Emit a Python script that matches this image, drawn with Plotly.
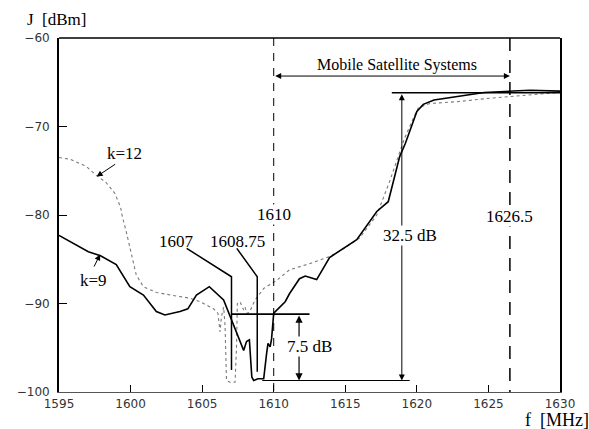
import plotly.graph_objects as go

# ---- data ----
f_k9 = [1595, 1597.05, 1597.9, 1599.0, 1599.95, 1600.9, 1601.8, 1602.4, 1603.45, 1604.0,
        1604.6, 1605.5, 1606.5, 1606.95, 1607.4, 1607.9, 1608.1, 1608.3, 1608.47, 1608.6,
        1608.9, 1609.3, 1609.5, 1609.6, 1609.75, 1609.85, 1610.0, 1610.3, 1610.8, 1611.1,
        1611.8, 1612.2, 1613.0, 1613.9, 1615.8, 1617.2, 1618.0, 1618.8, 1619.2, 1620.0,
        1620.45, 1621.2, 1624.7, 1627.9, 1630]
J_k9 = [-82.3, -84.15, -84.6, -85.6, -88.1, -89.05, -90.9, -91.3, -90.9, -90.6,
        -89.05, -88.1, -89.6, -91.5, -93.4, -95.3, -94.3, -94.1, -98.3, -98.7,
        -98.5, -98.5, -95.7, -94.5, -94.9, -94.0, -91.1, -90.6, -89.8, -88.9,
        -87.2, -86.9, -87.3, -84.8, -82.8, -79.6, -78.5, -73.4, -71.9, -68.3,
        -67.5, -67.0, -66.15, -65.9, -66.0]

f_k12 = [1595, 1595.77, 1596.9, 1597.6, 1598.3, 1598.9, 1599.3, 1599.4, 1599.7, 1600.1,
         1600.4, 1600.9, 1601.8, 1603.0, 1604.15, 1604.85, 1605.8, 1606.1, 1606.25, 1606.35,
         1606.5, 1606.6, 1606.7, 1606.95, 1607.3, 1607.4, 1607.46, 1607.65, 1607.9, 1608.0,
         1608.1, 1608.3, 1608.7, 1609.3, 1610.2, 1611.1, 1612.5, 1613.9, 1614.9, 1616.0,
         1617.2, 1618.1, 1619.1, 1619.8, 1620.1, 1620.9, 1622.8, 1625.1, 1627.4, 1630]
J_k12 = [-73.5, -73.7, -74.5, -75.5, -76.35, -77.55, -79.1, -80.0, -81.9, -84.5,
         -86.8, -88.1, -88.75, -89.1, -89.4, -89.8, -90.6, -91.1, -93.2, -91.5,
         -90.4, -92.5, -98.7, -98.9, -98.9, -94.9, -90.0, -89.8, -90.75, -90.4,
         -91.1, -91.0, -89.6, -88.3, -87.4, -86.2, -85.5, -84.7, -83.8, -82.6,
         -80.0, -76.2, -71.5, -68.9, -67.9, -67.4, -67.2, -66.8, -66.5, -66.15]

x_ticks = [1595, 1600, 1605, 1610, 1615, 1620, 1625, 1630]
y_ticks = [-60, -70, -80, -90, -100]

band_edges = [1610, 1626.5]
notch_freqs = [1607.05, 1608.85]
notch_labels = ["1607", "1608.75"]
level_top = -66.2
level_mid = -91.2
level_bot = -98.7

SERIF = "Liberation Serif, Times New Roman, serif"
SANS = "DejaVu Sans, Arial, sans-serif"

fig = go.Figure()

fig.add_trace(go.Scatter(x=f_k12, y=J_k12, mode="lines",
                         line=dict(color="#7a7a7a", width=1.1, dash="dot"),
                         hoverinfo="skip", showlegend=False))
fig.add_trace(go.Scatter(x=f_k9, y=J_k9, mode="lines",
                         line=dict(color="black", width=1.6),
                         hoverinfo="skip", showlegend=False))

# dashed band edges
fig.add_trace(go.Scatter(x=[band_edges[0], band_edges[0]], y=[-60, -100], mode="lines",
                         line=dict(color="black", width=1, dash="8px,7px"),
                         hoverinfo="skip", showlegend=False))
fig.add_trace(go.Scatter(x=[band_edges[1], band_edges[1]], y=[-60, -100], mode="lines",
                         line=dict(color="black", width=1.5, dash="13px,9px"),
                         hoverinfo="skip", showlegend=False))

# leader lines to notches
leader_start = [(1603.92, -83.77), (1607.42, -83.77)]
leader_knee_y = -86.98
leader_end_y = [-97.5, -97.7]
for (sx, sy), nf, ey in zip(leader_start, notch_freqs, leader_end_y):
    fig.add_trace(go.Scatter(x=[sx, nf, nf], y=[sy, leader_knee_y, ey], mode="lines",
                             line=dict(color="black", width=1.5),
                             hoverinfo="skip", showlegend=False))

# reference level lines
fig.add_trace(go.Scatter(x=[1618.25, 1630], y=[level_top, level_top], mode="lines",
                         line=dict(color="black", width=1.5), hoverinfo="skip", showlegend=False))
fig.add_trace(go.Scatter(x=[1607.07, 1612.5], y=[level_mid, level_mid], mode="lines",
                         line=dict(color="black", width=1.8), hoverinfo="skip", showlegend=False))
fig.add_trace(go.Scatter(x=[1609.2, 1619.5], y=[level_bot, level_bot], mode="lines",
                         line=dict(color="black", width=1.2), hoverinfo="skip", showlegend=False))

annotations = []

def darrow(x0, y0, x1, y1, w=1):
    annotations.append(dict(x=x1, y=y1, ax=x0, ay=y0, xref="x", yref="y", axref="x", ayref="y",
                            text="", showarrow=True, arrowhead=2, startarrowhead=2,
                            arrowside="end+start", arrowsize=1.2, startarrowsize=1.2,
                            arrowwidth=w, arrowcolor="black", standoff=0, startstandoff=0))

def sarrow(x0, y0, x1, y1, w=1):
    annotations.append(dict(x=x1, y=y1, ax=x0, ay=y0, xref="x", yref="y", axref="x", ayref="y",
                            text="", showarrow=True, arrowhead=2, arrowsize=1.2,
                            arrowwidth=w, arrowcolor="black", standoff=0))

def label(x, y, text, size=17, bg=None, xref="x", yref="y"):
    d = dict(x=x, y=y, xref=xref, yref=yref, text=text, showarrow=False,
             font=dict(family=SERIF, size=size, color="black"), xanchor="center", yanchor="middle")
    if bg:
        d["bgcolor"] = bg
        d["borderpad"] = 0
    annotations.append(d)

darrow(band_edges[0], -64.3, band_edges[1], -64.3)
darrow(1618.95, level_top, 1618.95, level_bot)
darrow(1611.77, level_mid, 1611.77, level_bot, w=1.2)
sarrow(1599.03, -74.15, 1597.63, -75.66)
sarrow(1597.4, -86.0, 1597.87, -84.45)

label(1618.6, -63.0, "Mobile Satellite Systems", size=16)
label(1619.5, -82.3, "32.5 dB", bg="white")
label(1612.5, -94.9, "7.5 dB", bg="white")
label(1610.0, -79.9, "1610", bg="white")
label(1626.5, -80.2, "1626.5", bg="white")
label(1603.18, -82.95, notch_labels[0])
label(1607.47, -82.95, notch_labels[1])
label(1599.55, -73.0, "k=12")
label(1597.4, -87.35, "k=9")
label(-0.003, 1.052, "J  [dBm]", xref="paper", yref="paper")
label(0.994, -0.079, "f  [MHz]", size=18, xref="paper", yref="paper")

fig.update_layout(
    width=589, height=429,
    margin=dict(l=59, r=29, t=38, b=37),
    paper_bgcolor="white", plot_bgcolor="white",
    showlegend=False,
    annotations=annotations,
    shapes=[dict(type="line", xref="paper", yref="paper", x0=0, x1=1, y0=1, y1=1,
                 line=dict(color="black", width=1.5))],
)
fig.update_xaxes(range=[1595, 1630], tickvals=x_ticks, ticks="inside", ticklen=7,
                 tickcolor="black", tickwidth=1.2, showgrid=False, zeroline=False,
                 showline=True, linecolor="#555", linewidth=1.2,
                 tickfont=dict(family=SANS, size=12, color="#333"), ticklabelstandoff=0)
fig.update_yaxes(range=[-100, -60], tickvals=y_ticks, ticks="inside", ticklen=8,
                 tickcolor="black", tickwidth=1.2, showgrid=False, zeroline=False,
                 showline=True, mirror=True, linecolor="black", linewidth=1.8,
                 tickfont=dict(family=SANS, size=12, color="#333"), ticklabelstandoff=5)

fig.write_html("out.html")
